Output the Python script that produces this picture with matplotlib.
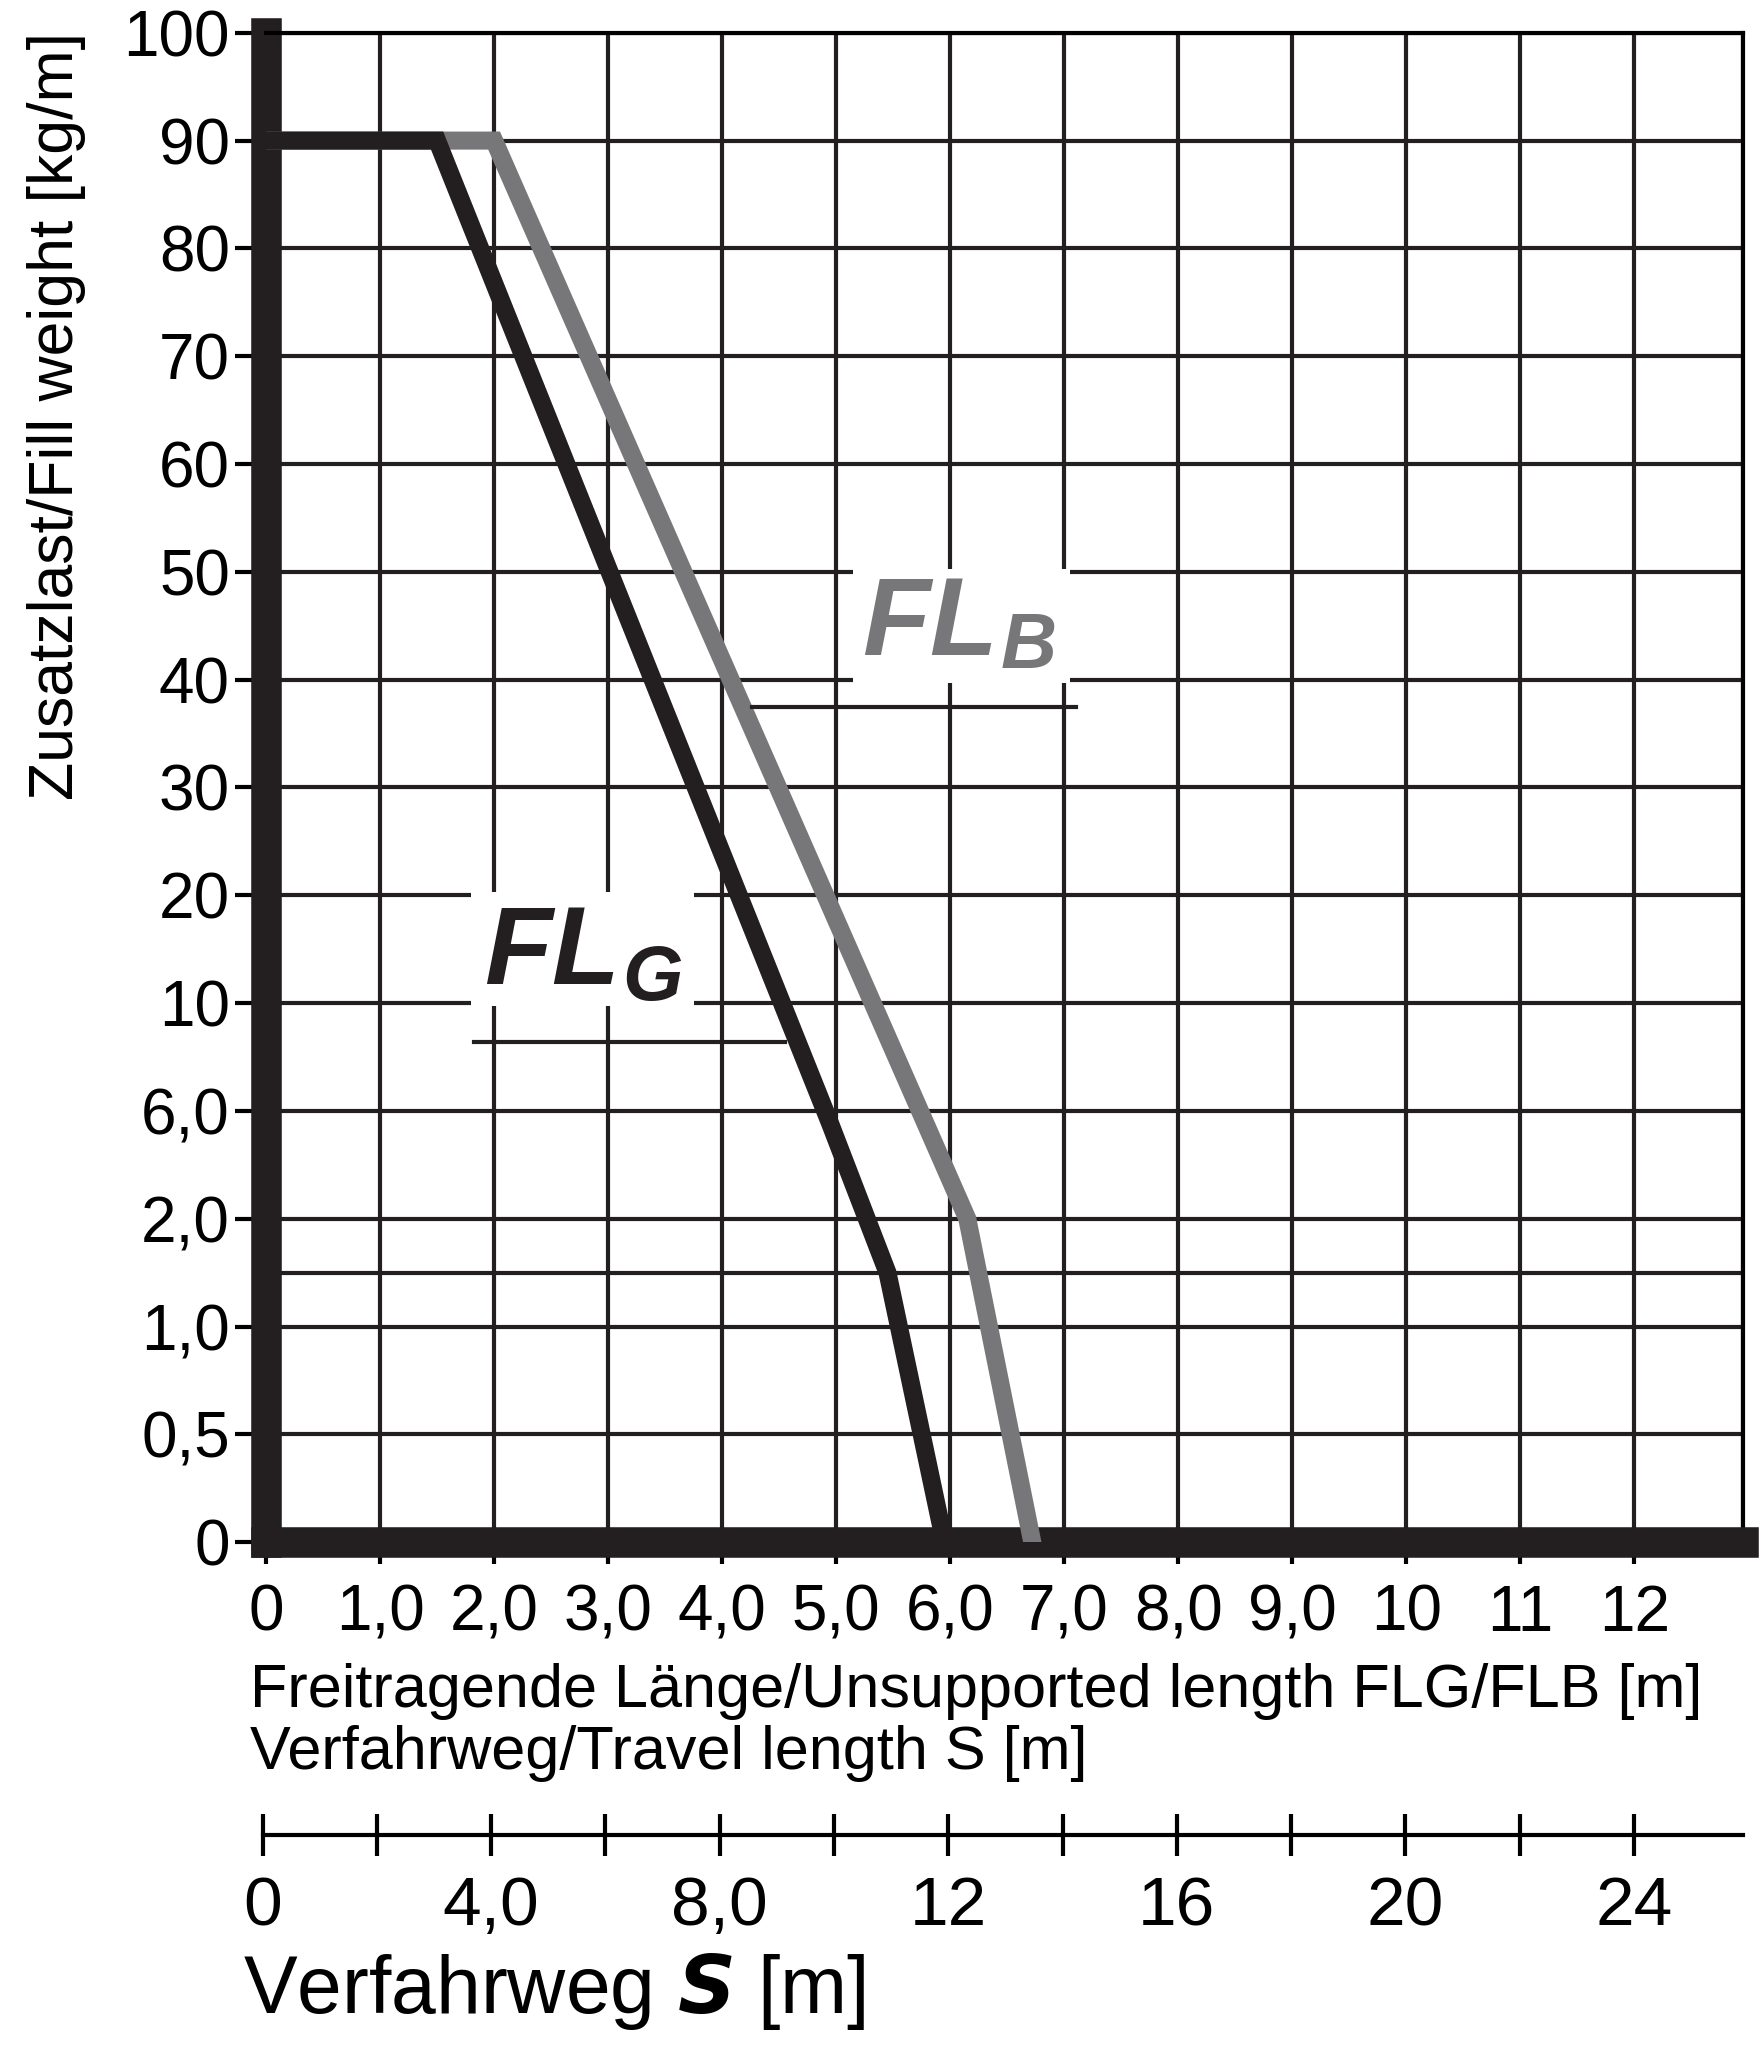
import matplotlib
matplotlib.use("Agg")
import matplotlib.pyplot as plt
from matplotlib.patches import Rectangle
import numpy as np

y_tick_values = [0, 0.5, 1.0, 2.0, 6.0, 10, 20, 30, 40, 50, 60, 70, 80, 90, 100]
y_tick_labels = ["0", "0,5", "1,0", "2,0", "6,0", "10", "20", "30", "40", "50", "60", "70", "80", "90", "100"]
x_ticks = [0, 1, 2, 3, 4, 5, 6, 7, 8, 9, 10, 11, 12]
x_tick_labels = ["0", "1,0", "2,0", "3,0", "4,0", "5,0", "6,0", "7,0", "8,0", "9,0", "10", "11", "12"]
s_ticks = [0, 4, 8, 12, 16, 20, 24]
s_tick_labels = ["0", "4,0", "8,0", "12", "16", "20", "24"]

flg_x = [0, 1.5, 4.95, 5.45, 5.95]
flg_y = [90, 90, 5.5, 1.5, 0]
flb_x = [0, 2.0, 6.15, 6.72]
flb_y = [90, 90, 2.0, 0]

def yi(v):
    return np.interp(v, y_tick_values, np.arange(len(y_tick_values)))

plt.rcParams['font.family'] = ['Liberation Sans', 'DejaVu Sans']
fig = plt.figure(figsize=(17.62, 20.48), dpi=100)
ax = fig.add_axes([0.151, 0.247, 0.838, 0.737])
ax.set_xlim(0, 12.95)
ax.set_ylim(0, 14)
ax.set_xticks(x_ticks)
ax.set_xticklabels(x_tick_labels, fontsize=46)
ax.set_yticks(np.arange(15))
ax.set_yticklabels(y_tick_labels, fontsize=46)
ax.set_yticks(np.arange(0.5, 14, 1), minor=True)
ax.tick_params(axis='y', which='major', length=22, width=3, direction='out', pad=4)
ax.tick_params(axis='y', which='minor', length=10, width=3, direction='out')
ax.tick_params(axis='x', which='major', length=16, width=3, direction='out', pad=14)
for x in x_ticks[1:]:
    ax.axvline(x, color='#231f20', lw=3, zorder=1)
for y in list(range(1, 15)) + [2.5]:
    ax.axhline(y, color='#231f20', lw=3, zorder=1)
ax.axvline(12.95, color='#231f20', lw=3)
for sp in ['top', 'right']:
    ax.spines[sp].set_linewidth(3)
for sp in ['left', 'bottom']:
    ax.spines[sp].set_linewidth(22)
    ax.spines[sp].set_color('#231f20')

# white label boxes
ax.add_patch(Rectangle((5.15, 7.97), 1.9, 1.06, facecolor='white', edgecolor='none', zorder=2))
ax.add_patch(Rectangle((1.8, 4.97), 1.95, 1.06, facecolor='white', edgecolor='none', zorder=2))

ax.plot(flb_x, yi(flb_y), color='#77777a', lw=13, zorder=4, solid_joinstyle='miter')
ax.plot(flg_x, yi(flg_y), color='#231f20', lw=13, zorder=5, solid_joinstyle='miter')

ax.text(6.42, 8.5, "FL", fontsize=80, style='italic', weight='bold', color='#77777a',
        ha='right', va='center', zorder=6)
ax.text(6.44, 8.3, "B", fontsize=56, style='italic', weight='bold', color='#77777a',
        ha='left', va='center', zorder=7)
ax.plot([4.26, 7.1], [7.75] * 2, color='#231f20', lw=3, zorder=6)
ax.text(3.1, 5.45, "FL", fontsize=80, style='italic', weight='bold', color='#231f20',
        ha='right', va='center', zorder=6)
ax.text(3.12, 5.22, "G", fontsize=56, style='italic', weight='bold', color='#231f20',
        ha='left', va='center', zorder=7)
ax.plot([1.82, 4.55], [4.64] * 2, color='#231f20', lw=3, zorder=6)

fig.text(0.032, 0.797, "Zusatzlast/Fill weight [kg/m]", fontsize=45, rotation=90,
         ha='center', va='center')
fig.text(0.142, 0.130, "Freitragende Länge/Unsupported length FLG/FLB [m]\nVerfahrweg/Travel length S [m]",
         fontsize=44, ha='left', va='bottom', linespacing=1.1)

ax2 = fig.add_axes([0.149, 0.104, 0.84, 0.001])
ax2.set_xlim(0, 25.9)
ax2.set_ylim(0, 1)
ax2.set_yticks([])
for sp in ['top', 'right', 'left']:
    ax2.spines[sp].set_visible(False)
ax2.spines['bottom'].set_linewidth(3)
ax2.spines['bottom'].set_position(('data', 0))
ax2.set_xticks(s_ticks)
ax2.set_xticklabels(s_tick_labels, fontsize=50)
ax2.set_xticks(np.arange(2, 26, 4), minor=True)
ax2.tick_params(axis='x', which='both', direction='inout', length=30, width=3, pad=14)
fig.text(0.138, 0.008, "Verfahrweg $\\boldsymbol{S}$ [m]", fontsize=58, ha='left', va='bottom')

fig.savefig("out.png", dpi=100)
